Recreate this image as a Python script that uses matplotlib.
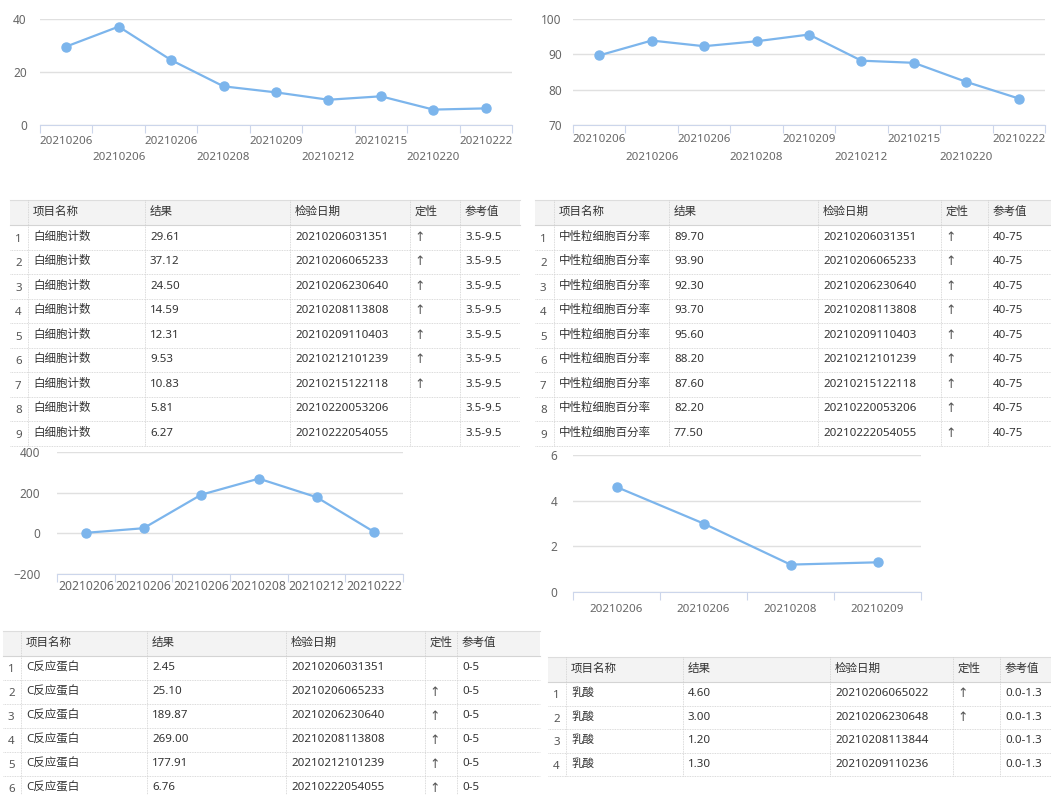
import matplotlib
matplotlib.use("Agg")
import matplotlib.pyplot as plt
from matplotlib.patches import Rectangle
import numpy as np

plt.rcParams['font.family'] = ['Noto Sans', 'Noto Sans CJK SC']

W, H = 1051, 795
LINE = "#7cb5ec"
GRID = "#e0e0e0"
AXIS = "#ccd6eb"
LABEL = "#666666"
TEXT = "#333333"

# white blood cell count
wbc_name = "白细胞计数"
wbc_values = [29.61, 37.12, 24.50, 14.59, 12.31, 9.53, 10.83, 5.81, 6.27]
wbc_times = ["20210206031351", "20210206065233", "20210206230640", "20210208113808",
             "20210209110403", "20210212101239", "20210215122118", "20210220053206",
             "20210222054055"]
wbc_flags = ["↑", "↑", "↑", "↑", "↑", "↑", "↑", "", ""]
wbc_ref = "3.5-9.5"

# neutrophil percentage
neu_name = "中性粒细胞百分率"
neu_values = [89.70, 93.90, 92.30, 93.70, 95.60, 88.20, 87.60, 82.20, 77.50]
neu_times = wbc_times
neu_flags = ["↑"] * 9
neu_ref = "40-75"

# C-reactive protein
crp_name = "C反应蛋白"
crp_values = [2.45, 25.10, 189.87, 269.00, 177.91, 6.76]
crp_times = ["20210206031351", "20210206065233", "20210206230640", "20210208113808",
             "20210212101239", "20210222054055"]
crp_flags = ["", "↑", "↑", "↑", "↑", "↑"]
crp_ref = "0-5"

# lactate
lac_name = "乳酸"
lac_values = [4.60, 3.00, 1.20, 1.30]
lac_times = ["20210206065022", "20210206230648", "20210208113844", "20210209110236"]
lac_flags = ["↑", "↑", "", ""]
lac_ref = "0.0-1.3"

headers = ["项目名称", "结果", "检验日期", "定性", "参考值"]

fig = plt.figure(figsize=(W / 100, H / 100), dpi=100)
fig.patch.set_facecolor("white")

ov = fig.add_axes([0, 0, 1, 1], zorder=0)
ov.set_xlim(0, W)
ov.set_ylim(H, 0)
ov.axis("off")


def line_chart(box, times, values, ylim, yticks, rows, ypad, label_gap, label_size):
    left, top, right, bottom = box
    ax = fig.add_axes([left / W, 1 - bottom / H, (right - left) / W, (bottom - top) / H], zorder=2)
    ax.patch.set_alpha(0)
    n = len(values)
    x = np.arange(n)
    ax.plot(x, values, color=LINE, lw=1.6, marker="o", ms=6.5, clip_on=False, zorder=3)
    ax.set_xlim(-0.5, n - 0.5)
    ax.set_ylim(*ylim)
    ax.set_yticks(yticks)
    ax.grid(axis="y", color=GRID, lw=1)
    ax.set_axisbelow(True)
    for s in ["top", "right", "left"]:
        ax.spines[s].set_visible(False)
    ax.spines["bottom"].set_color(AXIS)
    ax.set_xticks(np.arange(n + 1) - 0.5)
    ax.set_xticklabels([])
    ax.tick_params(axis="x", length=6, color=AXIS)
    ax.tick_params(axis="y", length=0, pad=ypad, labelsize=8.5, labelcolor=LABEL)
    for i, t in enumerate(times):
        row = i % rows
        ax.annotate(t[:8], (i, 0), xycoords=("data", "axes fraction"),
                    xytext=(0, -label_gap - row * 17), textcoords="offset pixels",
                    ha="center", va="center", fontsize=label_size, color=LABEL)
    return ax


def draw_table(cols, top, head_h, row_h, name, values, times, flags, ref):
    n = len(values)
    x0, x_end = cols[0], cols[-1]
    ov.add_patch(Rectangle((x0, top), x_end - x0, head_h, fc="#f3f3f3", ec="none"))
    ov.plot([x0, x_end], [top, top], color="#dddddd", lw=0.8)
    ov.plot([x0, x_end], [top + head_h, top + head_h], color="#d4d4d4", lw=0.8)
    bottom = min(top + head_h + n * row_h, H)
    for cx in cols[1:-1]:
        ov.plot([cx, cx], [top, bottom], color="#cfcfcf", lw=0.6, ls=(0, (1, 1)))
    for i, h in enumerate(headers):
        ov.text(cols[i + 1] + 5, top + head_h / 2, h, ha="left", va="center",
                fontsize=8.3, color=TEXT)
    for r in range(n):
        yc = top + head_h + (r + 0.5) * row_h
        yb = top + head_h + (r + 1) * row_h
        ov.plot([x0, x_end], [yb, yb], color="#cfcfcf", lw=0.6, ls=(0, (1, 1)))
        ov.text(x0 + 5, yc + 2, str(r + 1), ha="left", va="center", fontsize=8.3, color="#555555")
        cells = [name, f"{values[r]:.2f}", times[r], flags[r], ref]
        for i, c in enumerate(cells):
            if i == 3:
                ov.text(cols[i + 1] + 4, yc, c, ha="left", va="center", fontsize=9,
                        color="#555555", family=["DejaVu Sans"])
            else:
                ov.text(cols[i + 1] + 5, yc, c, ha="left", va="center", fontsize=8.3, color=TEXT)


line_chart((40, 19, 512, 125), wbc_times, wbc_values, (0, 40), [0, 20, 40], 2, 9.5, 16, 8.3)
line_chart((573, 19, 1045, 125), neu_times, neu_values, (70, 100), [70, 80, 90, 100], 2, 8, 15, 8.3)
line_chart((57, 452, 403, 574), crp_times, crp_values, (-200, 400), [-200, 0, 200, 400], 1, 12, 13, 8.8)
line_chart((573, 455, 921, 592), lac_times, lac_values, (0, 6), [0, 2, 4, 6], 1, 11.5, 18, 8.3)

draw_table([10, 28, 145, 290, 410, 460, 520], 200, 25, 24.5,
           wbc_name, wbc_values, wbc_times, wbc_flags, wbc_ref)
draw_table([535, 554, 669, 818, 941, 988, 1051], 200, 25, 24.5,
           neu_name, neu_values, neu_times, neu_flags, neu_ref)
draw_table([3, 21, 147, 286, 425, 457, 540], 631, 25, 24.0,
           crp_name, crp_values, crp_times, crp_flags, crp_ref)
draw_table([548, 566, 683, 830, 953, 1000, 1051], 657, 25, 23.5,
           lac_name, lac_values, lac_times, lac_flags, lac_ref)

fig.savefig("out.png", dpi=100, facecolor="white")
